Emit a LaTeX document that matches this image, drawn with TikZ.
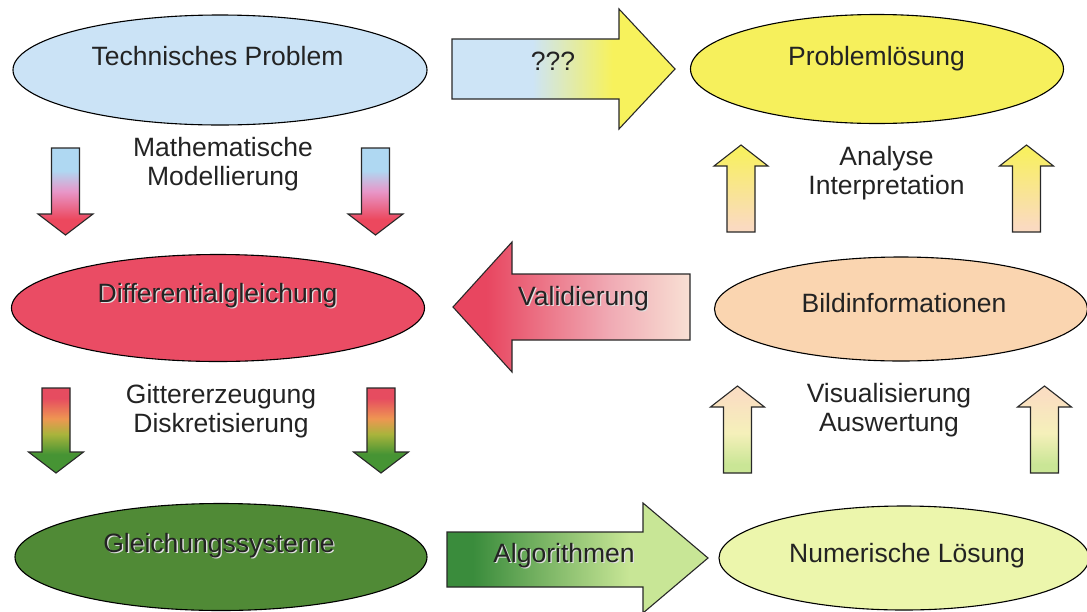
\documentclass[tikz,border=0pt]{standalone}
\usepackage{fontspec}
\setmainfont{Liberation Sans}
\usetikzlibrary{shapes.geometric}

% ellipse fills
\definecolor{tpblue}{RGB}{203,227,246}
\definecolor{plyellow}{RGB}{246,240,92}
\definecolor{dgred}{RGB}{234,76,100}
\definecolor{gsgreen}{RGB}{80,138,54}
\definecolor{bipeach}{RGB}{250,213,176}
\definecolor{nlgreen}{RGB}{236,246,172}
% arrow gradient stops
\definecolor{qblue}{RGB}{205,228,246}
\definecolor{qyellow}{RGB}{247,242,92}
\definecolor{vred}{RGB}{232,70,96}
\definecolor{vpink}{RGB}{240,170,180}
\definecolor{vlight}{RGB}{248,224,212}
\definecolor{adark}{RGB}{58,140,60}
\definecolor{alight}{RGB}{200,230,150}
\definecolor{mblue}{RGB}{175,216,242}
\definecolor{mpink}{RGB}{232,150,200}
\definecolor{mred}{RGB}{236,72,94}
\definecolor{gred}{RGB}{230,76,96}
\definecolor{gorange}{RGB}{238,150,82}
\definecolor{golive}{RGB}{170,180,60}
\definecolor{ggreen}{RGB}{70,148,52}
\definecolor{uyellow}{RGB}{248,240,96}
\definecolor{upeach}{RGB}{250,218,192}
\definecolor{wpeach}{RGB}{250,222,194}
\definecolor{wpale}{RGB}{245,240,186}
\definecolor{wgreen}{RGB}{202,230,150}
\definecolor{outline}{RGB}{40,40,40}
\definecolor{ink}{RGB}{35,35,35}

% horizontal gradients (left to right)
\pgfdeclarehorizontalshading{qqshade}{100bp}{color(0bp)=(qblue); color(43bp)=(qblue); color(61bp)=(qyellow); color(100bp)=(qyellow)}
\pgfdeclarehorizontalshading{valshade}{100bp}{color(0bp)=(vred); color(32bp)=(vred); color(58bp)=(vpink); color(75bp)=(vlight); color(100bp)=(vlight)}
\pgfdeclarehorizontalshading{algshade}{100bp}{color(0bp)=(adark); color(30bp)=(adark); color(60bp)=(alight); color(100bp)=(alight)}
% vertical gradients (bottom to top)
\pgfdeclareverticalshading{modshade}{100bp}{color(0bp)=(mred); color(34bp)=(mred); color(50bp)=(mpink); color(62bp)=(mblue); color(100bp)=(mblue)}
\pgfdeclareverticalshading{gitshade}{100bp}{color(0bp)=(ggreen); color(36bp)=(ggreen); color(48bp)=(golive); color(57bp)=(gorange); color(69bp)=(gred); color(100bp)=(gred)}
\pgfdeclareverticalshading{anashade}{100bp}{color(0bp)=(upeach); color(28bp)=(upeach); color(72bp)=(uyellow); color(100bp)=(uyellow)}
\pgfdeclareverticalshading{visshade}{100bp}{color(0bp)=(wgreen); color(30bp)=(wgreen); color(48bp)=(wpale); color(70bp)=(wpeach); color(100bp)=(wpeach)}

% text with a light drop shadow
\newcommand\embossed[1]{\leavevmode\rlap{\kern1.3pt\raisebox{-1.3pt}{\color{white!88!black}#1}}#1}

% vertical block arrows: #1 centre x, #2 tail y, #3 tip y, #4 shading
\newcommand\blockdown[4]{%
  \path[blockarrow, shading=#4]
    (#1-14,#2) -- (#1+14,#2) -- (#1+14,#3-21) -- (#1+27.5,#3-21) -- (#1,#3)
    -- (#1-27.5,#3-21) -- (#1-14,#3-21) -- cycle;}
\newcommand\blockup[4]{%
  \path[blockarrow, shading=#4]
    (#1-14,#2) -- (#1+14,#2) -- (#1+14,#3+21) -- (#1+27,#3+21) -- (#1,#3)
    -- (#1-27,#3+21) -- (#1-14,#3+21) -- cycle;}

\begin{document}
\begin{tikzpicture}[x=1pt, y=-1pt,
  ell/.style={ellipse, draw=black, line width=1.1pt, inner sep=0pt},
  txt/.style={text=ink, font=\fontsize{26.5}{29}\selectfont, inner sep=0pt},
  lbl/.style={txt, align=center},
  blockarrow/.style={draw=outline, line width=1.1pt, line join=miter, shade}]

\useasboundingbox (0,0) rectangle (1087,611);
\clip (0,0) rectangle (1087,611);

% ---- ellipses ----
\node[ell, fill=tpblue,   minimum width=414pt, minimum height=110pt] (tp) at (220,70)  {};
\node[ell, fill=plyellow, minimum width=373pt, minimum height=109pt] (pl) at (877,69)  {};
\node[ell, fill=dgred,    minimum width=413pt, minimum height=107pt] (dg) at (218,308) {};
\node[ell, fill=bipeach,  minimum width=373pt, minimum height=104pt] (bi) at (901,309) {};
\node[ell, fill=gsgreen,  minimum width=412pt, minimum height=107pt] (gs) at (221,557) {};
\node[ell, fill=nlgreen,  minimum width=370pt, minimum height=104pt] (nl) at (904,558) {};

\node[txt, anchor=base] (tpt) at (217.5,65) {Technisches Problem};
\node[txt, anchor=base] (plt) at (876.5,65) {Problemlösung};
\node[txt, anchor=base] (dgt) at (217.5,302) {\embossed{Differentialgleichung}};
\node[txt, anchor=base] (bit) at (904,312) {Bildinformationen};
\node[txt, anchor=base] (gst) at (219,552) {\embossed{Gleichungssysteme}};
\node[txt, anchor=base] (nlt) at (907,562) {Numerische Lösung};

% ---- horizontal block arrows ----
\path[blockarrow, shading=qqshade]
  (452,39) -- (619,39) -- (619,9) -- (675,69) -- (619,129) -- (619,99) -- (452,99) -- cycle;
\path[blockarrow, shading=valshade]
  (690,274) -- (512,274) -- (512,242) -- (453,307) -- (512,372) -- (512,340) -- (690,340) -- cycle;
\path[blockarrow, shading=algshade]
  (447,532) -- (643,532) -- (643,503) -- (708,558) -- (643,613) -- (643,587) -- (447,587) -- cycle;

\node[txt, anchor=base] (qq)  at (553,70)   {???};
\node[txt, anchor=base] (val) at (583.5,305) {\embossed{Validierung}};
\node[txt, anchor=base] (alg) at (564,562)  {\embossed{Algorithmen}};

% ---- vertical block arrows ----
\blockdown{65.5}{148}{235}{modshade}
\blockdown{375.5}{148}{235}{modshade}
\blockdown{56}{388}{473}{gitshade}
\blockdown{381}{388}{473}{gitshade}
\blockup{741}{232}{145}{anashade}
\blockup{1026.5}{232}{145}{anashade}
\blockup{737.5}{473}{386}{visshade}
\blockup{1044.5}{473}{386}{visshade}

% ---- step labels ----
\node[lbl] (mod) at (223,164) {Mathematische\\Modellierung};
\node[lbl] (git) at (221,411) {Gittererzeugung\\Diskretisierung};
\node[lbl] (ana) at (886.5,173) {Analyse\\Interpretation};
\node[lbl] (vis) at (889,410) {Visualisierung\\Auswertung};

\end{tikzpicture}
\end{document}
